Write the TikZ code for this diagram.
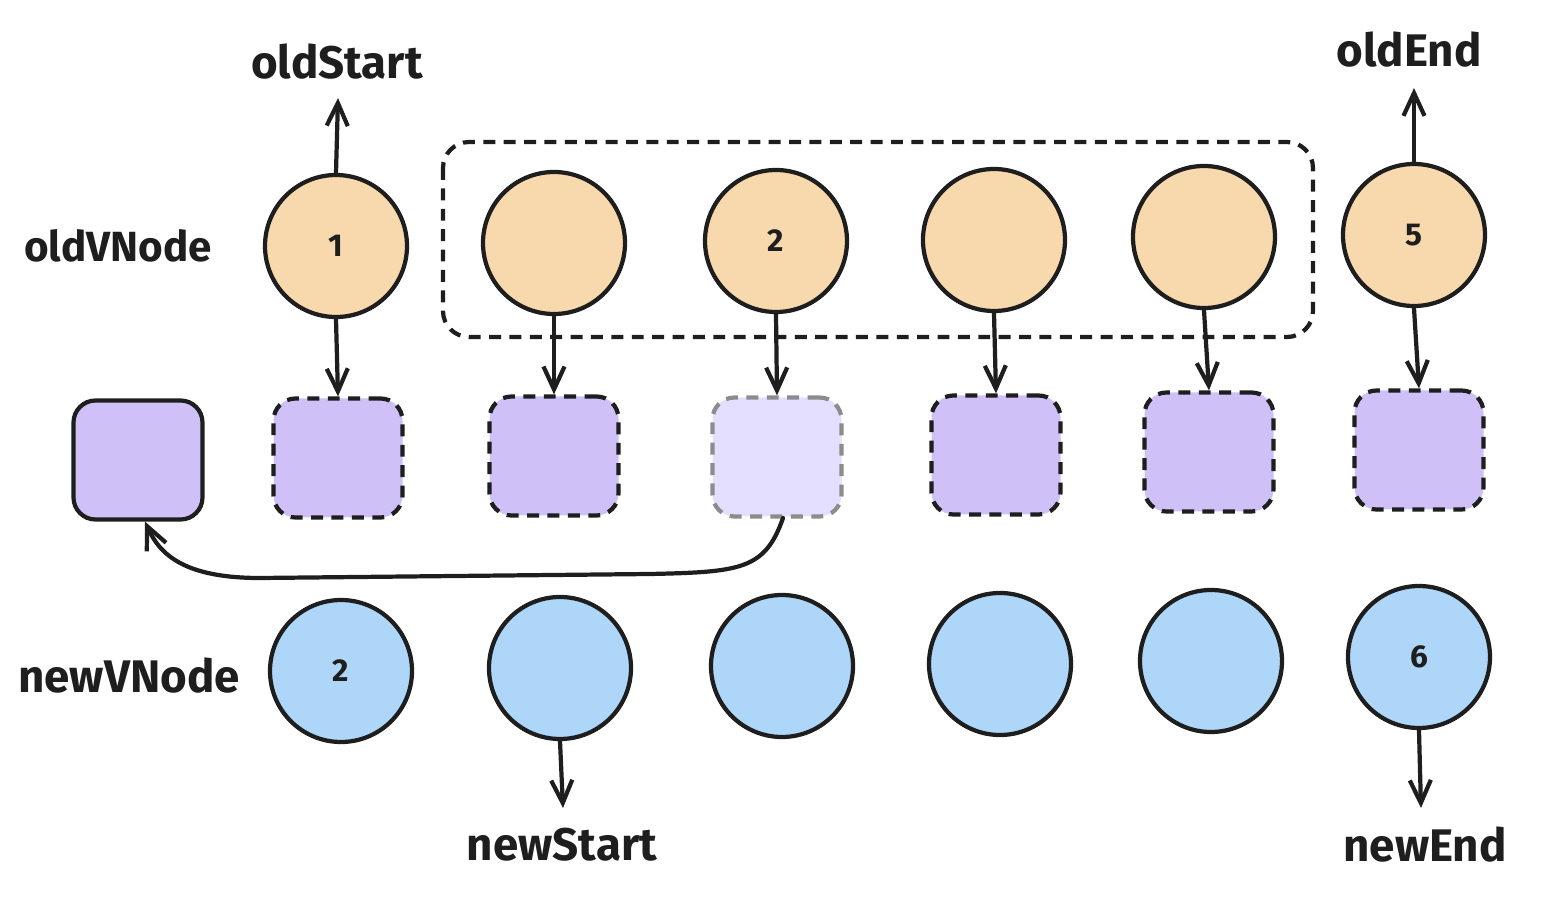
\documentclass[tikz,border=0pt]{standalone}
\usepackage{fontspec}
\setmainfont{Fira Sans}
\usetikzlibrary{arrows.meta}
\definecolor{ink}{HTML}{1E1E1E}
\definecolor{oldfill}{HTML}{F8D9AE}
\definecolor{vfill}{HTML}{CFC0F8}
\definecolor{vlight}{HTML}{E5DFFF}
\definecolor{newfill}{HTML}{AED6F8}
\definecolor{dashgray}{HTML}{8C8C8C}

\begin{document}
\begin{tikzpicture}[x=1cm, y=-1cm, line width=1.2pt,
  oldnode/.style={shape=circle, draw=ink, fill=oldfill, minimum size=1.42cm, inner sep=0pt, font=\bfseries\small, text=ink},
  newnode/.style={shape=circle, draw=ink, fill=newfill, minimum size=1.42cm, inner sep=0pt, font=\bfseries\small, text=ink},
  elm/.style={shape=rectangle, rounded corners=2.2mm, draw=ink, fill=vfill, minimum width=1.29cm, minimum height=1.19cm},
  elmdash/.style={elm, dash pattern=on 3.4pt off 2.4pt},
  tag/.style={font=\bfseries\fontsize{13}{15}\selectfont, text=ink},
  ptr/.style={-{Straight Barb[length=6.5pt, width=6pt]}, draw=ink, line cap=round}
]
\useasboundingbox (0,0) rectangle (15.46,8.98);
% labels
\node[tag, font=\bfseries\fontsize{12}{14}\selectfont] (oldvnode) at (1.18,2.46) {oldVNode};
\node[tag] (newvnode) at (1.29,6.76) {newVNode};
\node[tag] (oldstart) at (3.37,0.62) {oldStart};
\node[tag] (oldend) at (14.09,0.50) {oldEnd};
\node[tag] (newstart) at (5.62,8.45) {newStart};
\node[tag] (newend) at (14.25,8.45) {newEnd};
% dashed group
\draw[draw=ink, rounded corners=2.6mm, dash pattern=on 3.4pt off 2.4pt] (4.43,1.42) rectangle (13.13,3.37);
% old vnodes
\node[oldnode] (o1) at (3.36,2.46) {1};
\node[oldnode] (o2) at (5.54,2.43) {};
\node[oldnode] (o3) at (7.76,2.41) {2};
\node[oldnode] (o4) at (9.94,2.40) {};
\node[oldnode] (o5) at (12.04,2.37) {};
\node[oldnode] (o6) at (14.14,2.35) {5};
% real dom
\node[elm] (d0) at (1.38,4.60) {};
\node[elmdash] (d1) at (3.38,4.58) {};
\node[elmdash] (d2) at (5.54,4.56) {};
\node[elmdash, draw=dashgray, fill=vlight] (d3) at (7.77,4.57) {};
\node[elmdash] (d4) at (9.96,4.55) {};
\node[elmdash] (d5) at (12.09,4.52) {};
\node[elmdash] (d6) at (14.19,4.50) {};
% new vnodes
\node[newnode] (n1) at (3.41,6.71) {2};
\node[newnode] (n2) at (5.60,6.68) {};
\node[newnode] (n3) at (7.82,6.66) {};
\node[newnode] (n4) at (10.00,6.64) {};
\node[newnode] (n5) at (12.11,6.61) {};
\node[newnode] (n6) at (14.19,6.57) {6};
% pointers
\draw[ptr] (o1.north) -- (3.38,0.98);
\draw[ptr] (o6.north) -- (14.14,0.88);
\draw[ptr] (n2.south) -- (5.63,8.08);
\draw[ptr] (n6.south) -- (14.21,8.08);
\draw[ptr] (o1.south) -- (d1.north);
\draw[ptr] (o2.south) -- (d2.north);
\draw[ptr] (o3.south) -- (d3.north);
\draw[ptr] (o4.south) -- (d4.north);
\draw[ptr] (o5.south) -- (d5.north);
\draw[ptr] (o6.south) -- (d6.north);
% move
\draw[ptr] (7.83,5.18) .. controls (7.65,5.70) and (7.40,5.72) .. (6.50,5.74)
  -- (2.60,5.78) .. controls (1.85,5.78) and (1.60,5.55) .. (d0.south -| 1.45,0);
\end{tikzpicture}
\end{document}
